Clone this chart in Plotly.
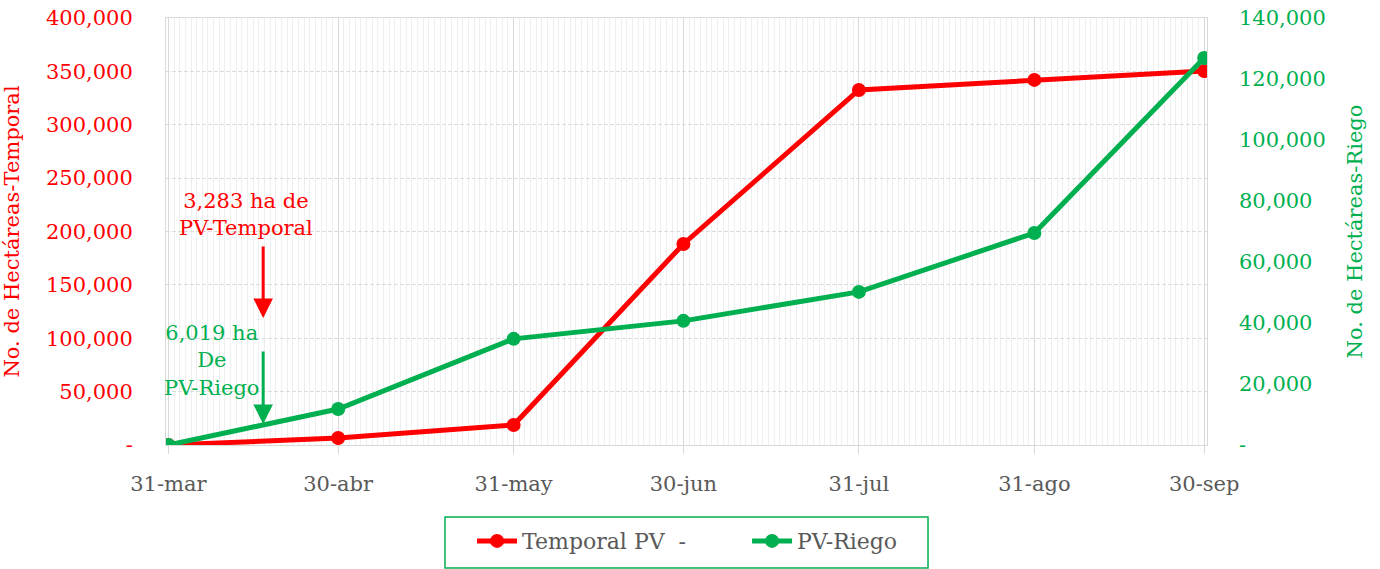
import plotly.graph_objects as go

fechas = ["2023-03-31", "2023-04-30", "2023-05-31", "2023-06-30", "2023-07-31", "2023-08-31", "2023-09-30"]
etiquetas_x = ["31-mar", "30-abr", "31-may", "30-jun", "31-jul", "31-ago", "30-sep"]
temporal = [0, 6500, 18700, 188300, 332600, 342000, 350400]
riego = [0, 11800, 34800, 40700, 50200, 69500, 126900]

y1_ticks = [0, 50000, 100000, 150000, 200000, 250000, 300000, 350000, 400000]
y2_ticks = [0, 20000, 40000, 60000, 80000, 100000, 120000, 140000]

RED = "#ff0000"
GREEN = "#00b050"
GREY = "#595959"
FONT = "DejaVu Serif"
FS = 21

def fmt(v):
    return "-" if v == 0 else f"{v:,}"

fig = go.Figure()
fig.add_trace(go.Scatter(x=fechas, y=temporal, name="Temporal PV  -", mode="lines+markers",
                         line=dict(color=RED, width=5), marker=dict(size=14, color=RED)))
fig.add_trace(go.Scatter(x=fechas, y=riego, name="PV-Riego", mode="lines+markers", yaxis="y2",
                         line=dict(color=GREEN, width=5), marker=dict(size=14, color=GREEN)))

fig.update_layout(
    width=1380, height=569,
    margin=dict(l=166, r=173, t=18, b=124, autoexpand=False),
    paper_bgcolor="white", plot_bgcolor="white",
    font=dict(family=FONT, size=FS, color=GREY),
    showlegend=True,
    legend=dict(orientation="h", x=0.294, xanchor="left", y=-0.225, yanchor="middle",
                borderwidth=0, font=dict(size=22, color=GREY), bgcolor="rgba(0,0,0,0)",
                itemwidth=40, entrywidthmode="pixels", entrywidth=220),
    xaxis=dict(type="date", range=["2023-03-30 14:00", "2023-09-30 12:00"],
               tickmode="array", tickvals=fechas, ticktext=etiquetas_x, automargin=False,
               showgrid=True, gridcolor="#d9d9d9", gridwidth=1,
               ticks="outside", ticklen=8, tickcolor="#d9d9d9",
               showline=True, linecolor="#d9d9d9", mirror=True,
               ticklabelstandoff=12,
               tickfont=dict(size=FS, color=GREY),
               minor=dict(dtick=86400000, tick0="2023-03-31", showgrid=True, gridcolor="#efefef", gridwidth=1),
               zeroline=False),
    yaxis=dict(range=[0, 400000], tickmode="array", tickvals=y1_ticks, ticktext=[fmt(v) for v in y1_ticks],
               automargin=False,
               showgrid=True, gridcolor="#dcdcdc", griddash="4px,2px", gridwidth=1.3,
               showline=True, linecolor="#d9d9d9", mirror=True, zeroline=False,
               ticklabelstandoff=28, tickfont=dict(size=FS, color=RED),
               title=dict(text="No. de Hectáreas-Temporal", font=dict(size=FS, color=RED), standoff=22)),
    yaxis2=dict(range=[0, 140000], overlaying="y", side="right", tickmode="array", tickvals=y2_ticks,
                ticktext=[fmt(v) for v in y2_ticks], showgrid=False, zeroline=False, showline=False,
                automargin=False,
                ticklabelstandoff=31, tickfont=dict(size=FS, color=GREEN),
                title=dict(text="No. de Hectáreas-Riego", font=dict(size=FS, color=GREEN), standoff=22)),
    shapes=[dict(type="rect", xref="paper", yref="paper", x0=0.268, x1=0.732, y0=-0.288, y1=-0.1686,
                 line=dict(color=GREEN, width=1.5), fillcolor="rgba(0,0,0,0)", layer="above")],
)

# text annotations
fig.add_annotation(x="2023-04-13 19:00", y=215500, xref="x", yref="y", text="3,283 ha de<br>PV-Temporal",
                   showarrow=False, font=dict(family=FONT, size=FS, color=RED), align="center")
fig.add_annotation(x="2023-04-07 19:00", y=79600, xref="x", yref="y", text="6,019 ha<br>De<br>PV-Riego",
                   showarrow=False, font=dict(family=FONT, size=FS, color=GREEN), align="center")
# arrows
fig.add_annotation(x="2023-04-16 18:00", y=119000, xref="x", yref="y", text="", showarrow=True,
                   ax=0, ay=-73, arrowhead=2, arrowsize=1.3, arrowwidth=3, arrowcolor=RED)
fig.add_annotation(x="2023-04-16 18:00", y=19700, xref="x", yref="y", text="", showarrow=True,
                   ax=0, ay=-74, arrowhead=2, arrowsize=1.3, arrowwidth=3, arrowcolor=GREEN)

fig.write_html("out.html", config={"displayModeBar": False},
               post_script="document.body.style.margin='0';document.body.style.overflow='hidden';")
